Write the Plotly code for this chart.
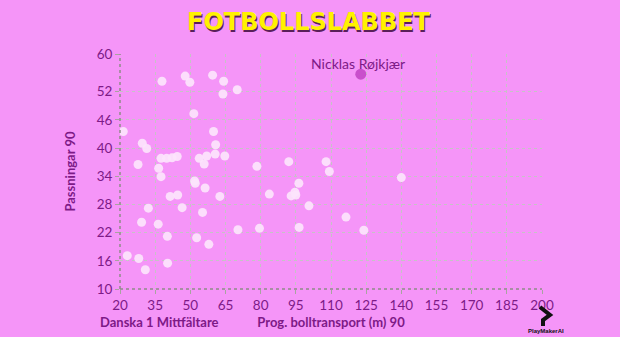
import plotly.graph_objects as go

# Data (Prog. bolltransport (m) 90, Passningar 90)
x_vals = [21.4, 37.9, 47.8, 49.8, 59.5, 64.2, 63.9, 70.0, 51.5, 59.9,
          29.5, 31.4, 60.8, 37.5, 39.9, 42.2, 44.4, 53.8, 57.0, 60.6,
          64.7, 27.7, 36.5, 55.9, 78.4, 37.5, 51.8, 52.1, 56.3, 62.6,
          41.4, 44.6, 83.7, 32.1, 46.5, 55.2, 29.2, 36.3, 70.3, 79.5,
          40.2, 52.7, 57.9, 23.1, 28.0, 30.8, 40.3, 92.0, 107.9, 109.3,
          140.0, 96.3, 93.0, 94.6, 95.0, 100.6, 116.4, 96.4, 124.0]
y_vals = [43.5, 54.2, 55.3, 54.0, 55.5, 54.2, 51.5, 52.4, 47.3, 43.5,
          41.0, 39.9, 40.7, 37.8, 37.8, 37.9, 38.2, 37.8, 38.3, 38.7,
          38.3, 36.5, 35.7, 36.6, 36.1, 33.9, 33.0, 32.5, 31.5, 29.7,
          29.7, 30.0, 30.2, 27.2, 27.3, 26.3, 24.2, 23.8, 22.6, 22.9,
          21.2, 20.9, 19.5, 17.1, 16.5, 14.1, 15.5, 37.1, 37.1, 35.0,
          33.7, 32.5, 29.8, 30.6, 30.0, 27.7, 25.3, 23.1, 22.5]

hl_name = "Nicklas Røjkjær"
hl_x = [122.7]
hl_y = [55.7]

x_ticks = [20, 35, 50, 65, 80, 95, 110, 125, 140, 155, 170, 185, 200]
y_ticks = [10, 16, 22, 28, 34, 40, 46, 52, 60]

BG = "#f595f8"
PURPLE = "#7d1a87"
GRID = "#c6c2c6"
FONT = "Lato"

fig = go.Figure()
fig.add_trace(go.Scatter(
    x=x_vals, y=y_vals, mode="markers",
    marker=dict(size=9, color="rgba(252,228,252,0.92)", line=dict(width=0)),
    hoverinfo="skip", showlegend=False))
fig.add_trace(go.Scatter(
    x=hl_x, y=hl_y, mode="markers",
    marker=dict(size=11, color="#c94fcc", line=dict(width=0)),
    showlegend=False))

fig.add_annotation(x=hl_x[0], y=hl_y[0], text=hl_name, showarrow=False,
                   yshift=11, xshift=-3,
                   font=dict(family=FONT, size=14, color=PURPLE))

axis_common = dict(
    showgrid=True, gridcolor=GRID, griddash="dot", gridwidth=1,
    showline=False, automargin=False,
    ticks="outside", ticklen=4, tickcolor="#a8a4a0",
    tickfont=dict(family=FONT, size=13.5, color=PURPLE),
    zeroline=False,
)

fig.update_layout(
    width=620, height=337,
    paper_bgcolor=BG, plot_bgcolor=BG,
    margin=dict(l=120, r=78, t=54, b=48, autoexpand=False),
    xaxis=dict(range=[20, 200], tickvals=x_ticks, **axis_common,
               title=dict(text="<b>Prog. bolltransport (m) 90</b>", standoff=5,
                          font=dict(family=FONT, size=13, color=PURPLE))),
    yaxis=dict(range=[10, 60], tickvals=y_ticks, **axis_common,
               title=dict(text="<b>Passningar 90</b>", standoff=18,
                          font=dict(family=FONT, size=13, color=PURPLE))),
    font=dict(family=FONT),
)

# dotted axis lines
fig.add_shape(type="line", xref="paper", yref="paper", x0=0, x1=1, y0=0, y1=0,
              line=dict(color="#8f8c88", width=1.5, dash="dot"))
fig.add_shape(type="line", xref="paper", yref="paper", x0=0, x1=0, y0=0, y1=1,
              line=dict(color="#8f8c88", width=1.5, dash="dot"))


def px(x):
    return (x - 120) / 422


def py(y):
    return (289 - y) / 235


# Title
fig.add_annotation(xref="paper", yref="paper", x=px(309), y=py(22),
                   xanchor="center", yanchor="middle",
                   text="<b>FOTBOLLSLABBET</b>", showarrow=False,
                   font=dict(family="DejaVu Sans", size=24, color="#fff200",
                             shadow="1px 2px 0px #5a1f5a"))

# Bottom-left label
fig.add_annotation(xref="paper", yref="paper", x=px(159), y=py(322),
                   xanchor="center", yanchor="middle",
                   text="<b>Danska 1 Mittfältare</b>", showarrow=False,
                   font=dict(family=FONT, size=13, color=PURPLE))

# PlayMakerAI logo
fig.add_shape(type="path", xref="paper", yref="paper",
              path=f"M {px(540)} {py(307)} L {px(550)} {py(315)} L {px(543)} {py(320)} L {px(543)} {py(326)}",
              line=dict(color="#111111", width=4))
fig.add_annotation(xref="paper", yref="paper", x=px(546), y=py(331),
                   xanchor="center", yanchor="middle",
                   text="<b>PlayMakerAI</b>", showarrow=False,
                   font=dict(family="Liberation Sans", size=6, color="#111111"))

fig.write_html("out.html")
